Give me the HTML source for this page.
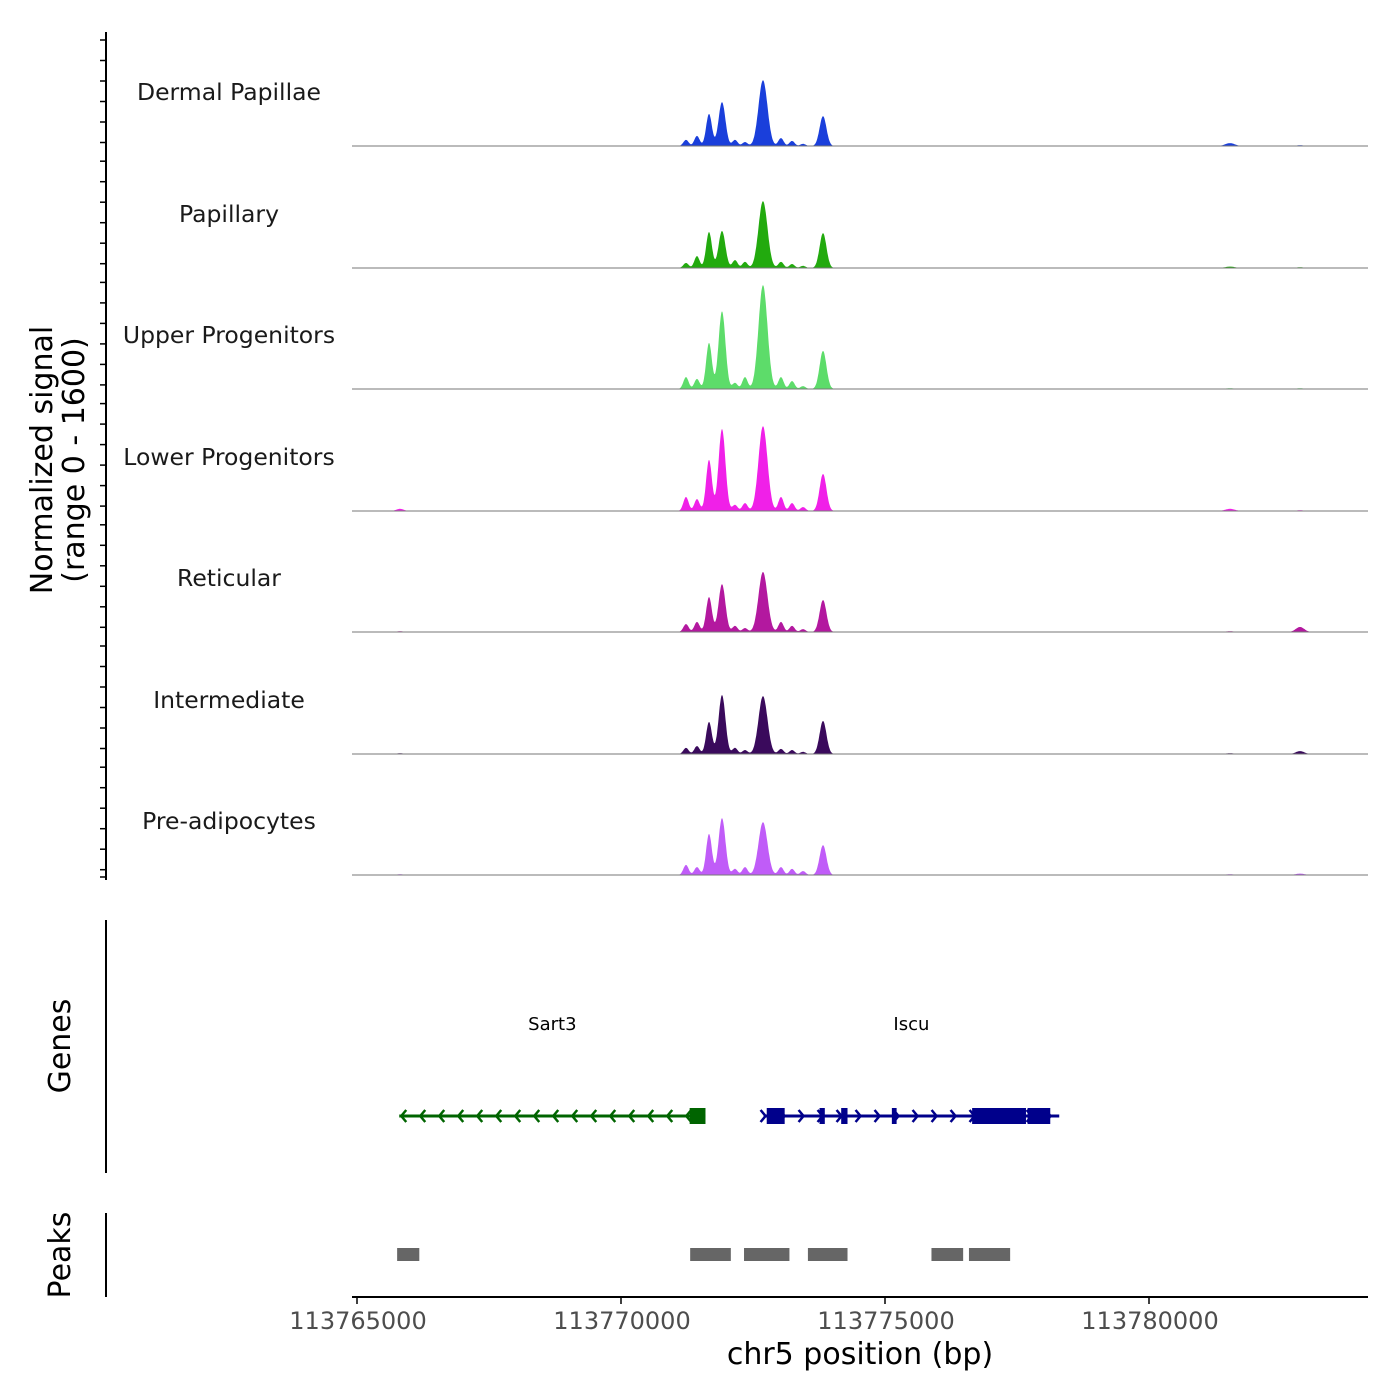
<!DOCTYPE html>
<html><head><meta charset="utf-8"><style>
html,body{margin:0;padding:0;background:#fff}
svg{display:block;font-family:"DejaVu Sans","Liberation Sans",sans-serif}
</style></head><body>
<svg id="chart" width="1400" height="1400" viewBox="0 0 1400 1400" xmlns="http://www.w3.org/2000/svg">
<g id="tracks"></g>
<g id="axes"></g>
<g id="genes"></g>
<g id="peaks"></g>
</svg>
<script>
const trackNames = ["Dermal Papillae","Papillary","Upper Progenitors","Lower Progenitors","Reticular","Intermediate","Pre-adipocytes"];
const trackColors = ["#1a3fdb","#22aa0e","#5ddc6a","#f020e8","#b3189f","#3a0a5c","#c05cf8"];
const peakPos = [113771231,113771439,113771667,113771913,113772159,113772348,113772689,113773030,113773239,113773447,113773826,113765814,113781534,113782860];
const peakWidth = [50,50,55,65,50,50,85,50,50,50,65,70,90,80];
const sigDermal = [85,140,445,610,85,55,915,110,70,30,415,0,40,10];
const sigPapillary = [70,165,500,515,110,85,930,85,55,30,485,0,20,10];
const sigUpper = [165,140,640,1080,85,165,1445,165,110,40,530,0,10,10];
const sigLower = [195,165,710,1140,85,110,1180,195,110,55,515,30,30,10];
const sigReticular = [110,140,485,665,85,55,835,140,85,40,445,10,10,70];
const sigIntermediate = [85,110,445,820,85,55,805,70,55,30,460,10,10,40];
const sigPreadipo = [140,110,570,790,85,110,735,110,85,55,415,10,10,20];
const trackSignals = [sigDermal,sigPapillary,sigUpper,sigLower,sigReticular,sigIntermediate,sigPreadipo];
const xTicks = [113765000,113770000,113775000,113780000];
const genes = [
 {name:"Sart3",start:113765800,end:113771600,strand:-1,color:"#006400",label:113768700,exons:[[113771300,113771600]]},
 {name:"Iscu",start:113772700,end:113778300,strand:1,color:"#00008b",label:113775500,
  exons:[[113772760,113773100],[113773760,113773860],[113774170,113774290],[113775130,113775220],[113776650,113777670],[113777700,113778130]]}
];
const peakRegions = [[113765760,113766180],[113771310,113772080],[113772330,113773190],[113773540,113774290],[113775880,113776480],[113776590,113777370]];

const NS="http://www.w3.org/2000/svg";
function el(tag,attrs,parent){const e=document.createElementNS(NS,tag);for(const k in attrs)e.setAttribute(k,attrs[k]);parent.appendChild(e);return e;}
const x = bp => 357 + (bp-113765000)*264/5000;
const yScale = v => v*115/1600;
const baselines = [146,268,389,511,632,754,875];
const dataStart=113764900, dataEnd=113783700;

const tg=document.getElementById('tracks');
trackNames.forEach((nm,i)=>{
  const g=el('g',{},tg);
  
  
  const b=baselines[i], vals=trackSignals[i];
  let d='M'+x(dataStart)+','+b;
  for(let bp=dataStart;bp<=dataEnd;bp+=10){
    let v=0;
    for(let k=0;k<peakPos.length;k++){const z=(bp-peakPos[k])/peakWidth[k];v+=vals[k]*Math.exp(-0.5*z*z);}
    d+=' L'+x(bp).toFixed(1)+','+(b-yScale(v)).toFixed(1);
  }
  d+=' L'+x(dataEnd)+','+b+' Z';
  const p=el('path',{d:d,fill:trackColors[i],stroke:'none'},g);
  
  
  const l=el('line',{x1:352,x2:1368,y1:b,y2:b,stroke:'#777','stroke-width':1},g);
  
  
  const t=el('text',{x:229,y:b-46,'text-anchor':'middle','font-size':23.5,fill:'#1a1a1a'},g);
  t.textContent=nm;
  
  
});

const ax=document.getElementById('axes');
function line(a,nm){const l=el('line',Object.assign({stroke:'#000','stroke-width':2},a),ax);return l;}
line({x1:106,x2:106,y1:32,y2:880},'signal-y-axis');
for(let i=0;i<7;i++){const top=40+i*121.2;for(let j=0;j<6;j++){const yy=top+j*20.5;if(yy>880)break;line({x1:100,x2:106,y1:yy,y2:yy,'stroke-width':1.5},'y-tick');}}
line({x1:100,x2:106,y1:877,y2:877,'stroke-width':1.5},'y-tick');
line({x1:106,x2:106,y1:920,y2:1173},'genes-y-axis');
line({x1:106,x2:106,y1:1213,y2:1297},'peaks-y-axis');
line({x1:352,x2:1368,y1:1297,y2:1297},'x-axis');
xTicks.forEach(v=>{
  line({x1:x(v),x2:x(v),y1:1297,y2:1304,'stroke-width':1.5},'x-tick');
  const t=el('text',{x:x(v)+1,y:1329,'text-anchor':'middle','font-size':24,fill:'#4d4d4d'},ax);
  t.textContent=v;
  
  
});
function txt(s,a,nm){const t=el('text',a,ax);t.textContent=s;return t;}
txt('chr5 position (bp)',{x:860,y:1364,'text-anchor':'middle','font-size':30},'x-axis-title');
txt('Normalized signal',{x:0,y:0,transform:'translate(52,460) rotate(-90)','text-anchor':'middle','font-size':30},'y-axis-title');
txt('(range 0 - 1600)',{x:0,y:0,transform:'translate(84,460) rotate(-90)','text-anchor':'middle','font-size':30},'y-axis-subtitle');
txt('Genes',{x:0,y:0,transform:'translate(70,1046) rotate(-90)','text-anchor':'middle','font-size':30},'genes-axis-title');
txt('Peaks',{x:0,y:0,transform:'translate(70,1255) rotate(-90)','text-anchor':'middle','font-size':30},'peaks-axis-title');

const gg=document.getElementById('genes');
const gy=1116;
genes.forEach(gn=>{
  const g=el('g',{},gg);
  
  
  el('line',{x1:x(gn.start),x2:x(gn.end),y1:gy,y2:gy,stroke:gn.color,'stroke-width':3},g);
  for(let px=x(gn.start)+2;px<x(gn.end)-4;px+=19){
    const s=gn.strand, w=5*s;
    el('polyline',{points:(px-w)+','+(gy-6)+' '+px+','+gy+' '+(px-w)+','+(gy+6),fill:'none',stroke:gn.color,'stroke-width':2.5},g);
  }
  gn.exons.forEach(e=>{const r=el('rect',{x:x(e[0]),y:gy-8,width:Math.max(4,x(e[1])-x(e[0])),height:16,fill:gn.color},g);
    });
  const t=el('text',{x:x(gn.label),y:1030,'text-anchor':'middle','font-size':18,fill:'#000'},g);
  t.textContent=gn.name;
  
  
});

const pg=document.getElementById('peaks');
peakRegions.forEach(r=>{
  const rc=el('rect',{x:x(r[0]),y:1248,width:x(r[1])-x(r[0]),height:13,fill:'#666'},pg);
  
  
});
</script>
</body></html>
